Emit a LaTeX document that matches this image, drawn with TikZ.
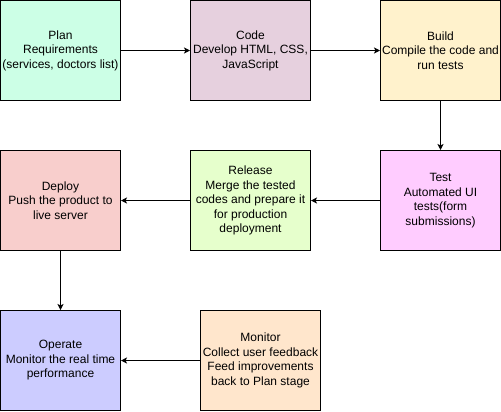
\documentclass[tikz,border=0pt]{standalone}
\usepackage{fontspec}
\setmainfont{Liberation Sans}
\usetikzlibrary{arrows.meta,positioning}
\definecolor{planpale}{RGB}{204,255,230}
\definecolor{codepale}{RGB}{230,208,222}
\definecolor{buildpale}{RGB}{255,242,204}
\definecolor{testpale}{RGB}{255,204,255}
\definecolor{releasepale}{RGB}{230,255,204}
\definecolor{deploypale}{RGB}{248,206,204}
\definecolor{operatepale}{RGB}{204,204,255}
\definecolor{monitorpale}{RGB}{255,230,204}

\begin{document}
\begin{tikzpicture}[x=1bp,y=-1bp,>={Stealth[length=6bp,width=6bp,inset=1.5bp]},
    every node/.style={align=center,font=\fontsize{12bp}{14.5bp}\selectfont},
    stage/.style={draw,line width=1bp,minimum width=120bp,minimum height=100bp,inner sep=0pt}]
  \useasboundingbox (0,0) rectangle (501,411);
  \node[stage,fill=planpale] (plan) at (60.5,50.5)
    {Plan\\Requirements\\(services, doctors list)};
  \node[stage,fill=codepale] (code) at (250.5,50.5)
    {Code\\Develop HTML, CSS,\\JavaScript};
  \node[stage,fill=buildpale] (build) at (440.5,50.5)
    {Build\\Compile the code and\\run tests};
  \node[stage,fill=testpale] (test) at (440.5,200.5)
    {Test\\Automated UI\\tests(form\\submissions)};
  \node[stage,fill=releasepale] (release) at (250.5,200.5)
    {Release\\Merge the tested\\codes and prepare it\\for production\\deployment};
  \node[stage,fill=deploypale] (deploy) at (60.5,200.5)
    {Deploy\\Push the product to\\live server};
  \node[stage,fill=operatepale] (operate) at (60.5,360.5)
    {Operate\\Monitor the real time\\performance};
  \node[stage,fill=monitorpale] (monitor) at (260.5,360.5)
    {Monitor\\Collect user feedback\\Feed improvements\\back to Plan stage};
  \draw[->,line width=1bp] (plan.east) -- (code.west);
  \draw[->,line width=1bp] (code.east) -- (build.west);
  \draw[->,line width=1bp] (build.south) -- (test.north);
  \draw[->,line width=1bp] (test.west) -- (release.east);
  \draw[->,line width=1bp] (release.west) -- (deploy.east);
  \draw[->,line width=1bp] (deploy.south) -- (operate.north);
  \draw[->,line width=1bp] (monitor.west) -- (operate.east);
\end{tikzpicture}
\end{document}
